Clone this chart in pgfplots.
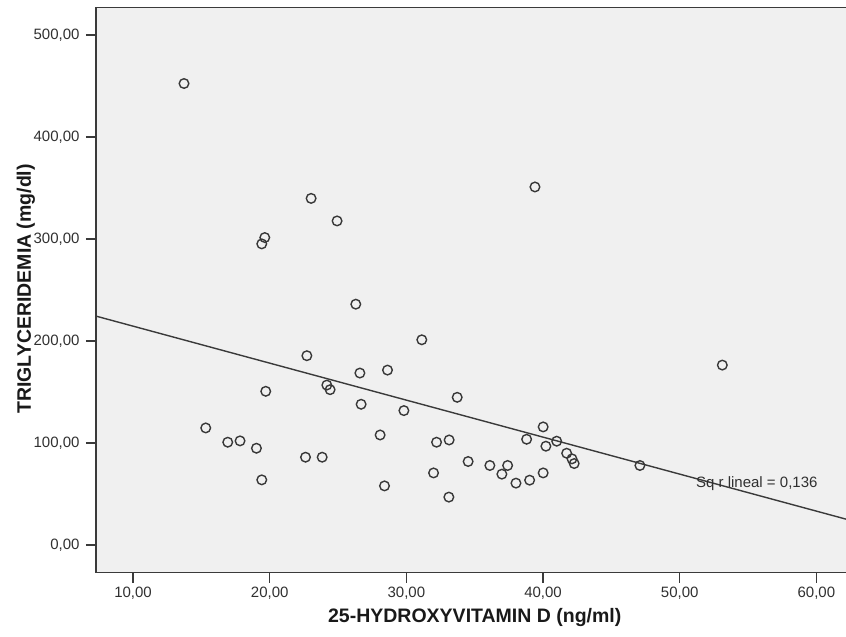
\documentclass[border=0pt]{standalone}
\usepackage{pgfplots}
\pgfplotsset{compat=1.18}
\usepackage{fontspec}
\setmainfont{Liberation Sans}
\definecolor{bgc}{HTML}{F0F0F0}
\definecolor{axc}{HTML}{3A3A3A}
\definecolor{markc}{HTML}{383838}
\definecolor{txc}{HTML}{303030}
\begin{document}
\begin{tikzpicture}
\begin{axis}[
  at={(0,0)}, anchor=south west,
  scale only axis, width=750pt, height=565.4pt,
  xmin=7.29, xmax=62.17, ymin=-27.1, ymax=527.1,
  axis background/.style={fill=bgc},
  axis x line=box, axis y line=left,
  axis line style={-, line width=1.4pt, draw=axc},
  every outer x axis line/.append style={-},
  every outer y axis line/.append style={-},
  xtick={10,20,30,40,50,60},
  xticklabels={{10,00},{20,00},{30,00},{40,00},{50,00},{60,00}},
  ytick={0,100,200,300,400,500},
  yticklabels={{0,00},{100,00},{200,00},{300,00},{400,00},{500,00}},
  xtick pos=left, ytick pos=left,
  tick align=outside, major tick length=10pt,
  tick style={line width=1.4pt, color=axc},
  minor tick num=0,
  tick label style={font=\fontsize{15}{18}\selectfont, text=txc},
  yticklabel style={xshift=-3pt},
  xticklabel style={yshift=-1pt},
  xlabel={25-HYDROXYVITAMIN D (ng/ml)},
  ylabel={TRIGLYCERIDEMIA (mg/dl)},
  label style={font=\fontsize{19.5}{23}\selectfont\bfseries, text=black!90},
  xlabel style={at={(axis description cs:0.505,0)}, anchor=base, yshift=-50pt},
  ylabel style={at={(axis description cs:-0.0867,0.502)}, anchor=base},
  clip=false,
]
\addplot[draw=axc, line width=1.4pt] coordinates {(7.29,224.4) (62.17,25.4)};
\addplot[only marks, mark=o, mark size=4.8pt, mark options={draw=markc, line width=1.4pt}] coordinates {
(13.73,452.4) (23.03,339.8) (24.93,317.7) (19.64,301.4) (19.42,295.2)
(39.41,351.0) (26.30,236.1) (31.13,201.2)
(22.72,185.6) (26.60,168.6) (28.62,171.5) (24.18,156.8) (24.42,152.3)
(19.71,150.7) (26.69,138.0) (29.82,131.8) (15.32,114.8) (28.08,107.9)
(16.93,100.8) (17.83,102.1) (19.03,94.9) (22.62,86.1) (23.84,86.1)
(19.42,63.9) (28.40,58.0)
(33.72,144.8) (40.01,115.8) (38.80,103.7) (41.00,101.8) (40.21,96.9)
(32.21,100.8) (33.13,103.0) (41.73,90.0) (42.12,84.5) (42.28,79.9)
(34.52,81.9) (36.11,78.0) (37.41,78.0) (36.99,69.5) (31.99,70.7)
(40.01,70.7) (38.02,60.7) (39.02,63.6) (33.11,47.0)
(53.12,176.4) (47.09,78.0)
};
\node[anchor=base west, font=\fontsize{15}{18}\selectfont, text=txc, inner sep=0pt] at (axis cs:51.19,56.5) {Sq r lineal = 0,136};
\end{axis}
\pgfresetboundingbox
\path[use as bounding box] ([shift={(-96pt,-64.3pt)}]current axis.south west) rectangle ([shift={(0pt,7.3pt)}]current axis.north east);
\end{tikzpicture}
\end{document}
